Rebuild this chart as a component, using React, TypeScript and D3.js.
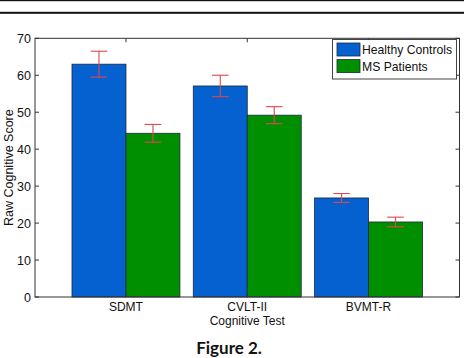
import { useEffect, useRef } from "react";
import * as d3 from "d3";

// ── Data ───────────────────────────────────────────────────────────────────────
const tests = ["SDMT", "CVLT-II", "BVMT-R"];
const groups = ["Healthy Controls", "MS Patients"];
const controlMeans = [63.0, 57.1, 26.8];
const controlErrors = [3.5, 2.9, 1.2];
const patientMeans = [44.3, 49.2, 20.3];
const patientErrors = [2.4, 2.3, 1.3];
const yTicks = [0, 10, 20, 30, 40, 50, 60, 70];

const groupColors = ["#0461cf", "#008f00"];

export default function App() {
  const svgRef = useRef<SVGSVGElement>(null);

  useEffect(() => {
    if (!svgRef.current) return;

    const width = 464;
    const plot = { left: 35, right: 459.5, top: 38.3, bottom: 297 };
    const font = "'Liberation Sans', Arial, sans-serif";

    const svg = d3.select(svgRef.current);
    svg.selectAll("*").remove();

    // ── Top rules ──────────────────────────────────────────────────────────────
    svg.append("rect").attr("x", 0).attr("y", 0).attr("width", width).attr("height", 1.2).attr("fill", "#111");
    svg.append("rect").attr("x", 0).attr("y", 11.8).attr("width", width).attr("height", 2).attr("fill", "#111");

    // ── Scales ─────────────────────────────────────────────────────────────────
    // MATLAB-style numeric x axis: categories at 1..3, limits [0.25, 3.75]
    const x = d3.scaleLinear().domain([0.25, 3.75]).range([plot.left, plot.right]);
    const y = d3.scaleLinear().domain([0, 70]).range([plot.bottom, plot.top]);
    const barW = x(1.445) - x(1);

    type Bar = { cat: number; group: number; value: number; err: number };
    const bars: Bar[] = [];
    tests.forEach((_, i) => {
      bars.push({ cat: i, group: 0, value: controlMeans[i], err: controlErrors[i] });
      bars.push({ cat: i, group: 1, value: patientMeans[i], err: patientErrors[i] });
    });
    const barX = (d: Bar) => x(d.cat + 1) + (d.group === 0 ? -barW : 0);

    // ── Bars ───────────────────────────────────────────────────────────────────
    svg
      .append("g")
      .selectAll("rect")
      .data(bars)
      .enter()
      .append("rect")
      .attr("x", barX)
      .attr("y", (d) => y(d.value))
      .attr("width", barW)
      .attr("height", (d) => y(0) - y(d.value))
      .attr("fill", (d) => groupColors[d.group])
      .attr("stroke", "#1a2a3a")
      .attr("stroke-width", 0.8);

    // ── Error bars ─────────────────────────────────────────────────────────────
    const errG = svg.append("g").attr("stroke", "#e2474b").attr("stroke-width", 1.1).attr("fill", "none");
    bars.forEach((d) => {
      const cx = barX(d) + barW / 2;
      const cap = 8.3;
      errG.append("line").attr("x1", cx).attr("x2", cx).attr("y1", y(d.value + d.err)).attr("y2", y(d.value - d.err));
      errG.append("line").attr("x1", cx - cap).attr("x2", cx + cap).attr("y1", y(d.value + d.err)).attr("y2", y(d.value + d.err));
      errG.append("line").attr("x1", cx - cap).attr("x2", cx + cap).attr("y1", y(d.value - d.err)).attr("y2", y(d.value - d.err));
    });

    // ── Axes box ───────────────────────────────────────────────────────────────
    svg
      .append("rect")
      .attr("x", plot.left)
      .attr("y", plot.top)
      .attr("width", plot.right - plot.left)
      .attr("height", plot.bottom - plot.top)
      .attr("fill", "none")
      .attr("stroke", "#333")
      .attr("stroke-width", 1);

    const tickG = svg.append("g").attr("stroke", "#333").attr("stroke-width", 1);
    yTicks.forEach((t) => {
      tickG.append("line").attr("x1", plot.left).attr("x2", plot.left + 4).attr("y1", y(t)).attr("y2", y(t));
      tickG.append("line").attr("x1", plot.right - 4).attr("x2", plot.right).attr("y1", y(t)).attr("y2", y(t));
    });
    tests.forEach((_, i) => {
      tickG.append("line").attr("x1", x(i + 1)).attr("x2", x(i + 1)).attr("y1", plot.top).attr("y2", plot.top + 4);
      tickG.append("line").attr("x1", x(i + 1)).attr("x2", x(i + 1)).attr("y1", plot.bottom).attr("y2", plot.bottom - 4);
    });

    // Y tick labels
    svg
      .append("g")
      .selectAll("text")
      .data(yTicks)
      .enter()
      .append("text")
      .attr("x", plot.left - 4)
      .attr("y", (d) => y(d) + 4.5)
      .attr("text-anchor", "end")
      .attr("font-family", font)
      .attr("font-size", 12.5)
      .attr("fill", "#111")
      .text((d) => d);

    // X tick labels
    svg
      .append("g")
      .selectAll("text")
      .data(tests)
      .enter()
      .append("text")
      .attr("x", (_, i) => x(i + 1))
      .attr("y", plot.bottom + 13.5)
      .attr("text-anchor", "middle")
      .attr("font-family", font)
      .attr("font-size", 12)
      .attr("fill", "#111")
      .text((d) => d);

    // Axis labels
    svg
      .append("text")
      .attr("x", x(2))
      .attr("y", plot.bottom + 27.5)
      .attr("text-anchor", "middle")
      .attr("font-family", font)
      .attr("font-size", 12)
      .attr("fill", "#111")
      .text("Cognitive Test");

    svg
      .append("text")
      .attr("transform", `translate(12.5,${(plot.top + plot.bottom) / 2}) rotate(-90)`)
      .attr("text-anchor", "middle")
      .attr("font-family", font)
      .attr("font-size", 12.5)
      .attr("fill", "#111")
      .text("Raw Cognitive Score");

    // ── Legend ─────────────────────────────────────────────────────────────────
    const lg = svg.append("g").attr("transform", "translate(332.5,39.5)");
    lg.append("rect")
      .attr("width", 124)
      .attr("height", 39.5)
      .attr("fill", "#fff")
      .attr("stroke", "#444")
      .attr("stroke-width", 1);
    groups.forEach((name, i) => {
      lg.append("rect")
        .attr("x", 4.5)
        .attr("y", 3.5 + i * 16.6)
        .attr("width", 23)
        .attr("height", 13)
        .attr("fill", groupColors[i])
        .attr("stroke", "#1a2a3a")
        .attr("stroke-width", 0.8);
      lg.append("text")
        .attr("x", 29.5)
        .attr("y", 14.5 + i * 16.6)
        .attr("font-family", font)
        .attr("font-size", 12.2)
        .attr("fill", "#111")
        .text(name);
    });

    // ── Caption ────────────────────────────────────────────────────────────────
    svg
      .append("text")
      .attr("x", 229)
      .attr("y", 354)
      .attr("text-anchor", "middle")
      .attr("font-family", "Lato, 'Open Sans', sans-serif")
      .attr("font-weight", "bold")
      .attr("font-size", 17)
      .attr("fill", "#111")
      .text("Figure 2.");
  }, []);

  return (
    <svg
      ref={svgRef}
      width={464}
      height={358}
      viewBox="0 0 464 358"
      style={{ position: "absolute", left: 0, top: 0, background: "#fff" }}
    />
  );
}
